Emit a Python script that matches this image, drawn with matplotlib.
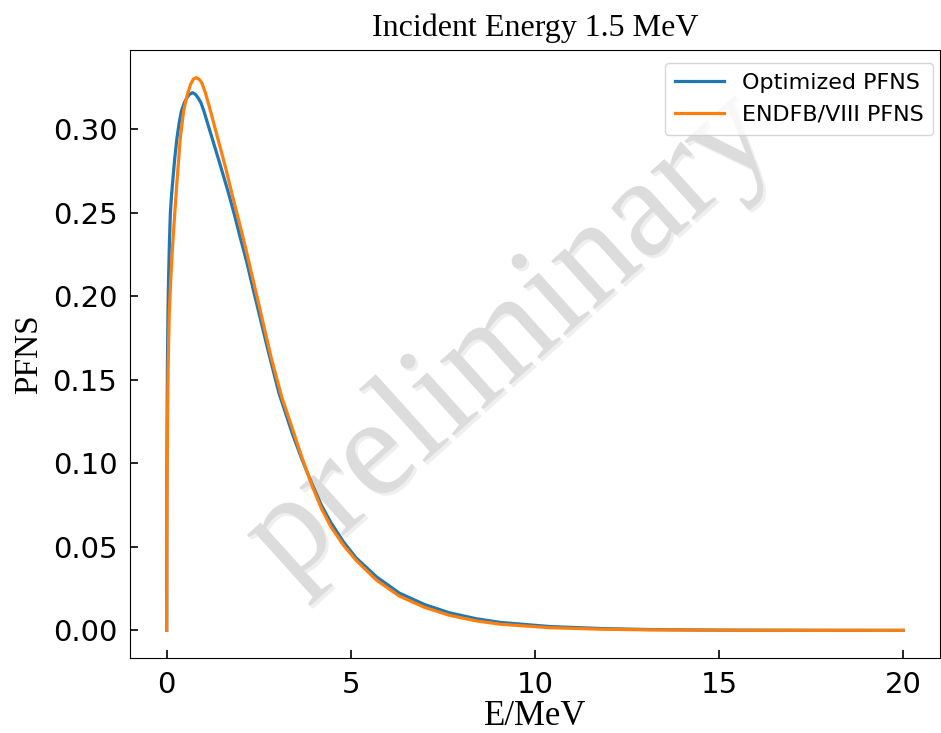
import numpy as np
import matplotlib
matplotlib.use("Agg")
import matplotlib.pyplot as plt
import matplotlib.patheffects as pe

# optimized PFNS (E in MeV)
opt_E = [0, 0.005, 0.01, 0.02, 0.035, 0.05, 0.075, 0.10, 0.13, 0.16, 0.22,
         0.28, 0.34, 0.40, 0.48, 0.55, 0.62, 0.70, 0.78, 0.85, 0.93, 1.01,
         1.12, 1.23, 1.34, 1.45, 1.57, 1.69, 1.85, 2.00, 2.17, 2.33, 2.55,
         2.76, 3.05, 3.41, 3.68, 3.96, 4.20, 4.46, 4.80, 5.14, 5.70, 6.32,
         7.00, 7.68, 8.40, 9.05, 10.4, 11.8, 13.1, 15.0, 17.5, 20.0]
opt_P = [0, 0.09, 0.12, 0.16, 0.19, 0.21, 0.233, 0.25, 0.26, 0.268, 0.283,
         0.295, 0.304, 0.311, 0.316, 0.319, 0.321, 0.322, 0.321, 0.319, 0.316,
         0.311, 0.303, 0.295, 0.287, 0.279, 0.270, 0.261, 0.248, 0.235,
         0.221, 0.206, 0.186, 0.167, 0.142, 0.118, 0.102, 0.087, 0.075,
         0.0645, 0.053, 0.0435, 0.032, 0.0223, 0.0155, 0.0105, 0.0070,
         0.0048, 0.0023, 0.0011, 0.0005, 0.00015, 0.00003, 0.0]

# ENDF/B-VIII PFNS
endf_E = [0, 0.004, 0.01, 0.02, 0.035, 0.05, 0.07, 0.11, 0.16, 0.22, 0.28,
          0.37, 0.46, 0.55, 0.65, 0.72, 0.80, 0.88, 0.95, 1.05, 1.14, 1.25,
          1.37, 1.48, 1.60, 1.70, 1.80, 1.95, 2.10, 2.26, 2.43, 2.63, 2.83,
          3.12, 3.41, 3.68, 3.96, 4.20, 4.46, 4.80, 5.14, 5.70, 6.32, 7.00,
          7.68, 8.40, 9.05, 10.4, 11.8, 13.1, 15.0, 17.5, 20.0]
endf_P = [0, 0.05, 0.09, 0.12, 0.15, 0.17, 0.19, 0.21, 0.23, 0.25, 0.269,
          0.295, 0.311, 0.320, 0.327, 0.330, 0.331, 0.330, 0.328, 0.322,
          0.315, 0.306, 0.296, 0.287, 0.277, 0.268, 0.259, 0.246, 0.233,
          0.218, 0.202, 0.183, 0.164, 0.140, 0.121, 0.103, 0.086, 0.073,
          0.062, 0.051, 0.042, 0.030, 0.0205, 0.0138, 0.0090, 0.0057,
          0.0037, 0.0016, 0.0007, 0.0003, 0.0001, 0.00002, 0.0]

xticks = [0, 5, 10, 15, 20]
yticks = [0.00, 0.05, 0.10, 0.15, 0.20, 0.25, 0.30]

serif = ["Liberation Serif", "DejaVu Serif"]

fig = plt.figure(figsize=(9.41, 7.33), dpi=100)
ax = fig.add_axes([0.138, 0.1023, 0.861, 0.8295])

ax.plot(opt_E, opt_P, color="#1f77b4", lw=2.3, label="Optimized PFNS", zorder=3)
ax.plot(endf_E, endf_P, color="#ff7f0e", lw=2.3, label="ENDFB/VIII PFNS", zorder=3)

ax.set_xticks(xticks)
ax.set_yticks(yticks)
ax.set_yticklabels([f"{v:.2f}" for v in yticks])
ax.tick_params(direction="in", labelsize=21, length=6, width=1.2, pad=9)

ax.set_title("Incident Energy 1.5 MeV", family=serif, fontsize=23, pad=10)
ax.set_xlabel("E/MeV", family=serif, fontsize=25, labelpad=1)
ax.set_ylabel("PFNS", family=serif, fontsize=24, labelpad=6)

ax.legend(loc="upper right", bbox_to_anchor=(1.0, 0.99), fontsize=16,
          handlelength=2.2, borderaxespad=0.3, borderpad=0.45, labelspacing=0.55)

# watermark
ax.text(0.567, 0.503, "preliminary", transform=fig.transFigure,
        family=serif, fontsize=102, color="#dcdcdc", rotation=42,
        rotation_mode="anchor", ha="center", va="baseline", zorder=1,
        path_effects=[pe.SimplePatchShadow(offset=(2, -2), shadow_rgbFace="#c0c0c0", alpha=0.25),
                      pe.Normal()])

fig.savefig("out.png", dpi=100)
